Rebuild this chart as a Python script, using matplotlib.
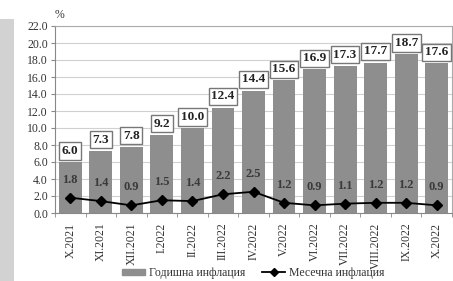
import numpy as np
import matplotlib
matplotlib.use("Agg")
import matplotlib.pyplot as plt
import matplotlib.lines as mlines
import matplotlib.patches as mpatches

# data
months = ["X.2021", "XI.2021", "XII.2021", "I.2022", "II.2022", "III.2022", "IV.2022",
          "V.2022", "VI.2022", "VII.2022", "VIII.2022", "IX.2022", "X.2022"]
annual = [6.0, 7.3, 7.8, 9.2, 10.0, 12.4, 14.4, 15.6, 16.9, 17.3, 17.7, 18.7, 17.6]
monthly = [1.8, 1.4, 0.9, 1.5, 1.4, 2.2, 2.5, 1.2, 0.9, 1.1, 1.2, 1.2, 0.9]
yticks = np.arange(0, 22.1, 2.0)

plt.rcParams['font.family'] = ['Liberation Serif', 'DejaVu Serif']

fig = plt.figure(figsize=(4.53, 2.81), dpi=100)
fig.patch.set_facecolor("white")

# grey strip on the left of the page
fig.add_artist(mpatches.Rectangle((0, 0), 14 / 453, 1 - 19 / 281,
                                  transform=fig.transFigure, color="#d2d2d2", lw=0))

ax = fig.add_axes([55 / 453, 1 - 213 / 281, 397 / 453, 187 / 281])
x = np.arange(len(months))

ax.bar(x, annual, width=0.75, color="#8e8e8e", zorder=2)
ax.plot(x, monthly, color="black", lw=1.3, marker="D", markersize=5, zorder=3)

for xi, v in zip(x, annual):
    ax.annotate(f"{v:.1f}", (xi, v), xytext=(0, 8), textcoords="offset points",
                ha="center", va="center", fontsize=9.5, fontweight="bold", color="#222222",
                bbox=dict(boxstyle="square,pad=0.2", fc="white", ec="#777777", lw=1.0),
                zorder=4)
for xi, v in zip(x, monthly):
    ax.annotate(f"{v:.1f}", (xi, v), xytext=(0, 13), textcoords="offset points",
                ha="center", va="center", fontsize=9, fontweight="bold", color="#3a3a3a",
                zorder=4)

ax.set_xlim(-0.5, len(months) - 0.5)
ax.set_ylim(0, 22)
ax.set_yticks(yticks)
ax.set_yticklabels([f"{t:.1f}" for t in yticks], fontsize=8.5, color="#333333")
ax.yaxis.grid(True, color="#d0d0d0", lw=0.8, zorder=0)

ax.set_xticks(x)
ax.set_xticklabels(months, rotation=90, fontsize=8.5, color="#333333")
ax.set_xticks(np.arange(-0.5, len(months)), minor=True)
ax.tick_params(axis="x", which="major", length=0, pad=7)
ax.tick_params(axis="x", which="minor", length=3, color="#888888")
ax.tick_params(axis="y", length=3, color="#888888", pad=2)

for s in ax.spines.values():
    s.set_color("#aaaaaa")
    s.set_linewidth(0.8)
ax.spines["left"].set_color("#888888")
ax.spines["bottom"].set_color("#888888")

ax.text(0.0, 1.025, "%", transform=ax.transAxes, fontsize=8.5, color="#333333",
        ha="left", va="bottom")

handles = [mpatches.Rectangle((0, 0), 1, 1, color="#8e8e8e"),
           mlines.Line2D([], [], color="black", lw=1.3, marker="D", markersize=4)]
fig.legend(handles, ["Годишна инфлация", "Месечна инфлация"], loc="center",
           bbox_to_anchor=(253 / 453, 1 - 273 / 281), ncol=2, frameon=False,
           fontsize=8.5, handlelength=2.0, handleheight=0.35, columnspacing=1.4,
           handletextpad=0.3)
for t in fig.legends[0].get_texts():
    t.set_color("#333333")

fig.savefig("out.png", dpi=100)
